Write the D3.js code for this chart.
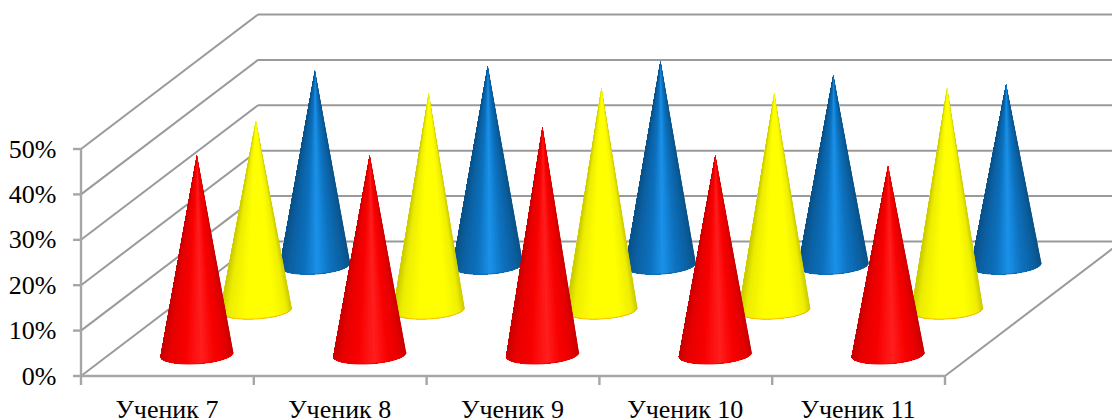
<!DOCTYPE html>
<html><head><meta charset="utf-8">
<style>html,body{margin:0;padding:0;background:#fff}svg{display:block}</style>
<script src="https://cdn.jsdelivr.net/npm/d3@7/dist/d3.min.js"></script>
</head><body><svg id="c" width="1112" height="420"></svg>
<script>
const categories = ["Ученик 7","Ученик 8","Ученик 9","Ученик 10","Ученик 11"];
const seriesNames = ["Red","Yellow","Blue"];
const redValues = [43.7,43.7,49.9,43.7,41.4];
const yellowValues = [41.4,47.4,48.6,47.4,48.6];
const blueValues = [42.6,43.6,44.7,41.6,39.6];
const yTicks = [0,10,20,30,40,50];

const svg = d3.select("#c");
const W0=81, W1=945, Y0=376, Y50=149, DX=177, DY=-134.5;
const x = d3.scaleBand().domain(categories).range([W0,W1]);
const y = d3.scaleLinear().domain([0,50]).range([Y0,Y50]);
const depth = d3.scalePoint().domain(seriesNames).range([0,1]).padding(0.5);
const gridColor="#9a9a9a";

const grid = svg.append("g").attr("fill","none").attr("stroke",gridColor).attr("stroke-width",2);
yTicks.forEach(t=>{
  grid.append("line").attr("x1",W0+DX).attr("x2",1112).attr("y1",y(t)+DY).attr("y2",y(t)+DY);
  grid.append("line").attr("x1",W0).attr("x2",W0+DX).attr("y1",y(t)).attr("y2",y(t)+DY);
});
grid.append("line").attr("x1",W1).attr("y1",Y0).attr("x2",W1+DX).attr("y2",Y0+DY);

const axis = svg.append("g").attr("stroke","#a6a6a6").attr("stroke-width",2.4).attr("fill","none");
axis.append("line").attr("x1",W0).attr("x2",W0).attr("y1",Y50-1).attr("y2",Y0+9);
axis.append("line").attr("x1",W0).attr("x2",W1).attr("y1",Y0).attr("y2",Y0);
yTicks.forEach(t=>axis.append("line").attr("x1",W0-8).attr("x2",W0).attr("y1",y(t)).attr("y2",y(t)));
categories.forEach(c=>axis.append("line").attr("x1",x(c)+x.bandwidth()).attr("x2",x(c)+x.bandwidth()).attr("y1",Y0).attr("y2",Y0+9));

// shading across the cone surface: -1 left edge, 0 centre, +1 right edge
const shades = {
  Red: d3.scaleLinear().domain([-1,-0.8,-0.35,0.12,0.5,0.85,1]).range(["#c80000","#e60000","#f80000","#ff1e1e","#f80000","#e20000","#c80000"]),
  Yellow: d3.scaleLinear().domain([-1,-0.8,-0.3,0.5,0.85,1]).range(["#caca00","#ecec00","#ffff00","#ffff00","#eeee00","#caca00"]),
  Blue: d3.scaleLinear().domain([-1,-0.75,-0.3,0.05,0.4,0.8,1]).range(["#0a5288","#0b60a2","#0d72bf","#1a92ea","#0e74c2","#0b5f9f","#0a5288"])
};
const seriesValues = {Red:redValues,Yellow:yellowValues,Blue:blueValues};
const rim = {Red:"#f00000",Yellow:"#f5a800",Blue:"#0b66aa"};
const perspective = d3.scaleLinear().domain([0,1]).range([1.05,1.0]);
const baseRx = 35, ry = 9.2, tilt = -3.5, rad = tilt*Math.PI/180, SLICES = 40;

const marks = svg.append("g");
seriesNames.slice().reverse().forEach(s=>{
  const t = depth(s);
  categories.forEach((c,i)=>{
    const v = seriesValues[s][i];
    const cx = x(c)+x.bandwidth()/2 + DX*t;
    const cy = y(0)+DY*t+1;
    const rx = baseRx*perspective(t);
    const tipY = y(v)+DY*t;
    const pt = a => {
      const u = rx*Math.cos(a), w = ry*Math.sin(a);
      return [cx+u*Math.cos(rad)-w*Math.sin(rad), cy+u*Math.sin(rad)+w*Math.cos(rad)];
    };
    const rimLine = d3.range(SLICES+1).map(k=>pt(Math.PI*k/SLICES));
    const cone = marks.append("g");
    // each layer covers everything still to be painted, so no seams show between shades
    d3.range(SLICES).forEach(k=>{
      const col = shades[s](Math.cos(Math.PI*(k+0.5)/SLICES));
      const poly = [[cx,tipY]].concat(rimLine.slice(k));
      cone.append("path").attr("d",d3.line()(poly)+"Z").attr("fill",col);
    });
    cone.append("path").attr("d",d3.line()(rimLine)).attr("fill","none").attr("stroke",rim[s]).attr("stroke-width",0.8);
  });
});

const font = "'Liberation Serif','Times New Roman',serif";
const lab = svg.append("g").attr("font-family",font).attr("fill","#000").attr("font-size",26);
yTicks.forEach(t=>lab.append("text").attr("x",W0-24.5).attr("y",y(t)+8.5).attr("text-anchor","end").text(t+"%"));
categories.forEach(c=>lab.append("text").attr("x",x(c)+x.bandwidth()/2-0.5).attr("y",418).attr("text-anchor","middle").text(c));
</script></body></html>
